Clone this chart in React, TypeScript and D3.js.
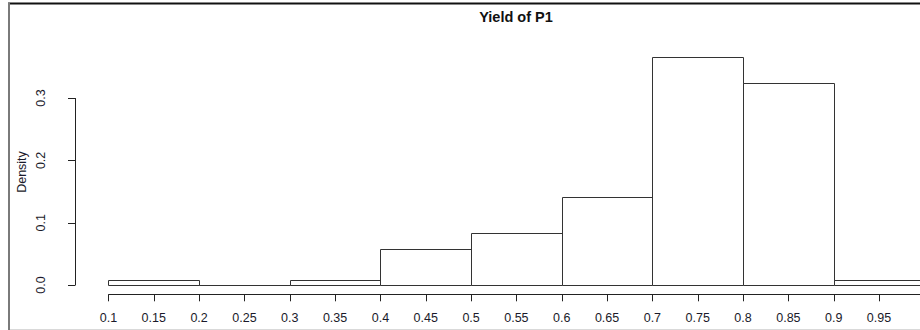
import React from "react";
import * as d3 from "d3";

const binStarts = [0.1, 0.2, 0.3, 0.4, 0.5, 0.6, 0.7, 0.8, 0.9];
const binWidth = 0.1;
const densities = [0.00833, 0, 0.00833, 0.0583, 0.0833, 0.1417, 0.3667, 0.325, 0.00833];
const xTicks = [0.1, 0.15, 0.2, 0.25, 0.3, 0.35, 0.4, 0.45, 0.5, 0.55, 0.6, 0.65, 0.7, 0.75, 0.8, 0.85, 0.9, 0.95];
const xAxisEnd = 1.0;
const yTicks = [0, 0.1, 0.2, 0.3];
const title = "Yield of P1";
const yLabel = "Density";

const W = 920;
const H = 330;
const FONT = "'Liberation Sans', Arial, sans-serif";

export default function App() {
  const x = d3.scaleLinear().domain([0.064, 1.036]).range([75.8, 957.0]);
  const y = d3.scaleLinear().domain([0, 0.3]).range([285, 98.1]);
  const axisY = 294.3;
  const fmtX = (v: number) => String(+v.toFixed(2));
  const fmtY = (v: number) => v.toFixed(1);
  const snap = (v: number) => Math.round(v) + 0.5;

  return (
    <svg
      width={W}
      height={H}
      style={{ position: "absolute", left: 0, top: 0, background: "#fff" }}
      fontFamily={FONT}
    >
      <rect x={0} y={0} width={W} height={H} fill="#fff" />
      {/* frame */}
      <line x1={8} x2={W} y1={3.5} y2={3.5} stroke="#111" strokeWidth={2} />
      <line x1={9} x2={9} y1={3} y2={H} stroke="#7a7a7a" strokeWidth={2} />
      <line x1={10} x2={W} y1={329.5} y2={329.5} stroke="#d9d9d9" strokeWidth={1} />

      {/* title */}
      <text x={516} y={22} textAnchor="middle" fontWeight="bold" fontSize={14.5} fill="#111">
        {title}
      </text>

      {/* bars */}
      {binStarts.map((b, i) => {
        const x0 = snap(x(b));
        const x1 = snap(x(b + binWidth));
        const yt = snap(y(densities[i]));
        const y0 = snap(y(0));
        const d = `M${x0},${y0}V${yt}H${x1}V${y0}Z`;
        return <path key={i} d={d} fill="#fff" stroke="#333" strokeWidth={1} />;
      })}

      {/* x axis */}
      <line
        x1={x(xTicks[0])}
        x2={x(xAxisEnd)}
        y1={axisY + 0.2}
        y2={axisY + 0.2}
        stroke="#222"
        strokeWidth={1}
      />
      {xTicks.map((t, i) => (
        <g key={i}>
          <line x1={snap(x(t))} x2={snap(x(t))} y1={axisY} y2={axisY + 7} stroke="#222" />
          <text x={x(t)} y={321.5} textAnchor="middle" fontSize={12.5} fill="#1a1a2a">
            {fmtX(t)}
          </text>
        </g>
      ))}

      {/* y axis */}
      <line x1={75.5} x2={75.5} y1={y(0)} y2={y(0.3)} stroke="#222" />
      {yTicks.map((t, i) => (
        <g key={i}>
          <line x1={68} x2={75.5} y1={snap(y(t))} y2={snap(y(t))} stroke="#222" />
          <text
            transform={`translate(${45},${y(t)}) rotate(-90)`}
            textAnchor="middle"
            fontSize={12.5}
            fill="#1a1a2a"
          >
            {fmtY(t)}
          </text>
        </g>
      ))}

      {/* y label */}
      <text
        transform={`translate(${25.5},${172}) rotate(-90)`}
        textAnchor="middle"
        fontSize={12.5}
        fill="#1a1a2a"
      >
        {yLabel}
      </text>
    </svg>
  );
}
